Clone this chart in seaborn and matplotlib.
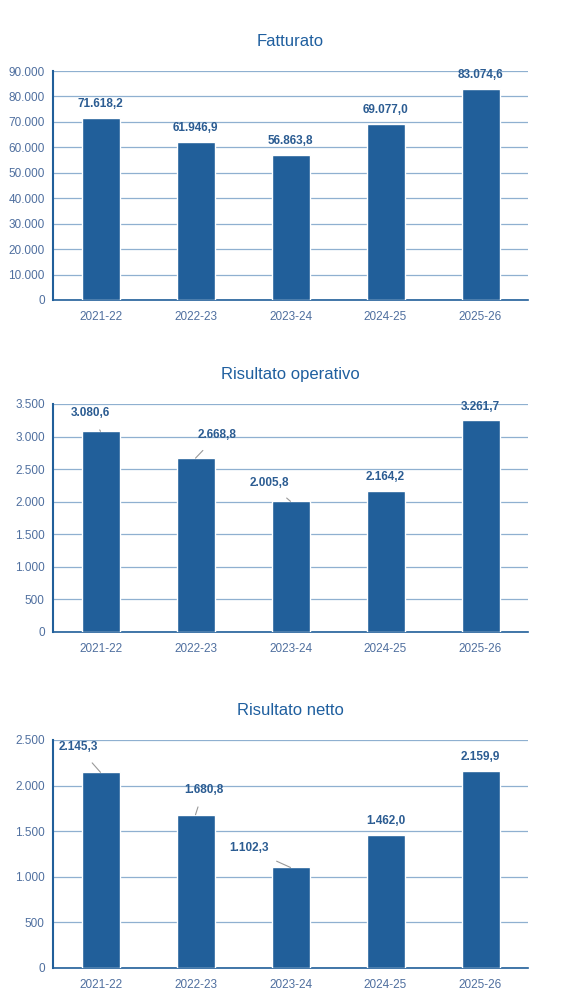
import matplotlib
matplotlib.use("Agg")
import matplotlib.pyplot as plt
import seaborn as sns
import pandas as pd
from matplotlib.ticker import FuncFormatter, FixedLocator

anni = ["2021-22", "2022-23", "2023-24", "2024-25", "2025-26"]
fatturato = [71618.2, 61946.9, 56863.8, 69077.0, 83074.6]
ris_operativo = [3080.6, 2668.8, 2005.8, 2164.2, 3261.7]
ris_netto = [2145.3, 1680.8, 1102.3, 1462.0, 2159.9]

BAR = "#215F9A"
TXT = "#2B5C92"
TICK = "#4F6F9F"
GRID = "#8FB0D0"

sns.set_theme(style="white")
plt.rcParams["font.family"] = ["Liberation Sans", "DejaVu Sans"]


def it_int(v, _=None):
    return f"{int(round(v)):,}".replace(",", ".")


def it_dec(v):
    s = f"{v:,.1f}"
    return s.replace(",", "X").replace(".", ",").replace("X", ".")


charts = [
    ("Fatturato", fatturato, 90000, 10000,
     [(0, 14)] * 5, [0.71, 0.300, 0.071]),
    ("Risultato operativo", ris_operativo, 3500, 500,
     [(-10, 18), (22, 23), (-21, 18), (0, 14), (0, 13)], [0.372, 0.300, 0.404]),
    ("Risultato netto", ris_netto, 2500, 500,
     [(-22, 25), (8, 25), (-42, 19), (0, 14), (0, 14)], [0.038, 0.300, 0.740]),
]

fig = plt.figure(figsize=(5.79, 10.06), dpi=100)
H = 1006
for title, vals, ymax, step, offs, _ in charts:
    pass

tops = [71, 404, 740]
bottoms = [300, 632, 968]
for (title, vals, ymax, step, offs, _), t, b in zip(charts, tops, bottoms):
    ax = fig.add_axes([53 / 579, 1 - b / H, (528 - 53) / 579, (b - t) / H])
    df = pd.DataFrame({"anno": anni, "valore": vals})
    sns.barplot(data=df, x="anno", y="valore", color=BAR, width=0.4,
                saturation=1, ax=ax, zorder=3)
    ax.set_xlim(-0.5, 4.5)
    ax.set_ylim(0, ymax)
    ax.yaxis.set_major_locator(FixedLocator(list(range(0, ymax + 1, step))))
    ax.yaxis.set_major_formatter(FuncFormatter(it_int))
    ax.grid(axis="y", color=GRID, linewidth=0.9, zorder=0)
    for s in ["top", "right"]:
        ax.spines[s].set_visible(False)
    ax.spines["left"].set_color(BAR)
    ax.spines["left"].set_linewidth(1.5)
    ax.spines["bottom"].set_color(BAR)
    ax.spines["bottom"].set_linewidth(1.2)
    ax.set_xlabel("")
    ax.set_ylabel("")
    ax.tick_params(axis="y", colors=TICK, labelsize=8.5, length=0, pad=6)
    ax.tick_params(axis="x", colors=TICK, labelsize=8.5, length=0, pad=8)
    ax.set_xticks([i + 0.5 for i in range(-1, 5)], minor=True)
    ax.tick_params(axis="x", which="minor", length=4, color=BAR, direction="out")
    ax.set_title(title, color="#1F5F9F", fontsize=12, pad=18)
    for i, (v, (dx, dy)) in enumerate(zip(vals, offs)):
        lead = abs(dx) > 5
        ax.annotate(it_dec(v), xy=(i, v), xytext=(dx, dy),
                    textcoords="offset pixels", ha="center", va="center",
                    fontsize=8.5, fontweight="bold", color=TXT, zorder=5,
                    arrowprops=dict(arrowstyle="-", color="#999999", lw=0.8,
                                    shrinkA=6, shrinkB=0) if lead else None)

fig.savefig("out.png", dpi=100)
